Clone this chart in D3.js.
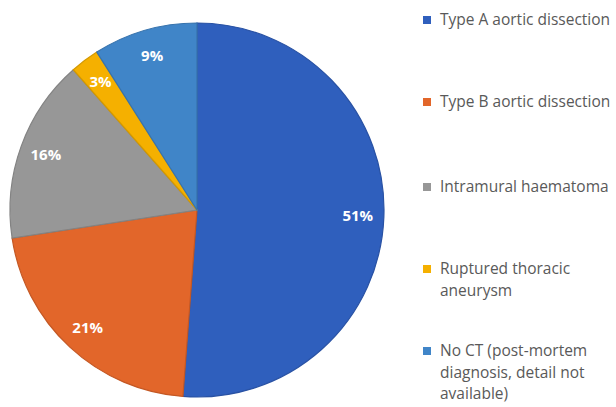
<!DOCTYPE html>
<html>
<head>
<meta charset="utf-8">
<script src="https://cdn.jsdelivr.net/npm/d3@7"></script>
<style>
  body { margin: 0; background: #fff; }
  svg { display: block; }
</style>
</head>
<body>
<div id="chart"></div>
<script>
const categories = ["Type A aortic dissection", "Type B aortic dissection", "Intramural haematoma",
                    "Ruptured thoracic aneurysm", "No CT (post-mortem diagnosis, detail not available)"];
const shares = [51.2, 21.4, 15.9, 2.5, 9.0];
const colors = ["#2f5fbd", "#e2662a", "#979797", "#f5b000", "#4085c8"];
// legend text broken the way the original wraps it
const legendLines = [
  ["Type A aortic dissection"],
  ["Type B aortic dissection"],
  ["Intramural haematoma"],
  ["Ruptured thoracic", "aneurysm"],
  ["No CT (post-mortem", "diagnosis, detail not", "available)"]
];

const width = 616, height = 407;
const cx = 197, cy = 210, radius = 187;

const svg = d3.select("#chart").append("svg")
  .attr("width", width)
  .attr("height", height);

const pie = d3.pie().sort(null).value(d => d);
const arcs = pie(shares);
const arc = d3.arc().innerRadius(0).outerRadius(radius);
const labelArc = d3.arc().innerRadius(radius * 0.86).outerRadius(radius * 0.86);

const g = svg.append("g").attr("transform", `translate(${cx},${cy})`);

g.selectAll("path.slice")
  .data(arcs)
  .join("path")
  .attr("class", "slice")
  .attr("d", arc)
  .attr("fill", (d, i) => colors[i])
  .attr("stroke", (d, i) => d3.color(colors[i]).darker(0.4))
  .attr("stroke-width", 1.2);

g.selectAll("text.pct")
  .data(arcs)
  .join("text")
  .attr("class", "pct")
  .attr("transform", d => `translate(${labelArc.centroid(d)})`)
  .attr("text-anchor", "middle")
  .attr("dy", "0.36em")
  .attr("fill", "#fff")
  .style("font-family", "'Open Sans', sans-serif")
  .style("font-weight", "bold")
  .style("font-size", "15px")
  .text(d => Math.round(d.data) + "%");

// legend
const legendY = [20, 102, 187, 269, 351];
const lineH = 21.5;
const legend = svg.append("g");

const item = legend.selectAll("g.item")
  .data(categories)
  .join("g")
  .attr("class", "item")
  .attr("transform", (d, i) => `translate(423,${legendY[i]})`);

item.append("rect")
  .attr("x", 0)
  .attr("y", -4)
  .attr("width", 8)
  .attr("height", 8)
  .attr("fill", (d, i) => colors[i]);

item.append("text")
  .attr("x", 17)
  .attr("y", 0)
  .attr("fill", "#595959")
  .style("font-family", "'Open Sans', sans-serif")
  .style("font-size", "15.5px")
  .selectAll("tspan")
  .data((d, i) => legendLines[i])
  .join("tspan")
  .attr("x", 17)
  .attr("dy", (d, j) => j === 0 ? "0.35em" : lineH)
  .text(d => d);
</script>
</body>
</html>
